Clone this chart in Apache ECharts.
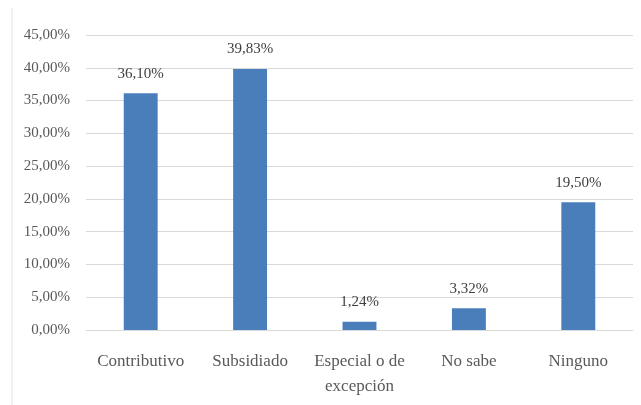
<!DOCTYPE html>
<html>
<head>
<meta charset="utf-8">
<script src="https://cdn.jsdelivr.net/npm/echarts@6/dist/echarts.min.js"></script>
<style>
  html, body { margin: 0; padding: 0; background: #fff; }
  #chart { width: 641px; height: 405px; }
</style>
</head>
<body>
<div id="chart"></div>
<script>
// categorias y valores (%)
var categories = ['Contributivo', 'Subsidiado', 'Especial o de\nexcepción', 'No sabe', 'Ninguno'];
var values = [36.10, 39.83, 1.24, 3.32, 19.50];

var yMax = 45;
var yStep = 5;

var fmt = function (v) {
  return v.toFixed(2).replace('.', ',') + '%';
};

var chart = echarts.init(document.getElementById('chart'));

var option = {
  animation: false,
  textStyle: { fontFamily: 'Liberation Serif', color: '#595959' },
  grid: { left: 86, right: 8, top: 35, bottom: 75 },
  // borde gris a la izquierda de la imagen
  graphic: [{
    type: 'line',
    shape: { x1: 12, y1: 8, x2: 12, y2: 405 },
    style: { stroke: '#e2e2e2', lineWidth: 1 }
  }],
  xAxis: {
    type: 'category',
    data: categories,
    axisLine: { lineStyle: { color: '#d9d9d9' } },
    axisTick: { show: false },
    axisLabel: {
      color: '#595959',
      fontSize: 17,
      fontFamily: 'Liberation Serif',
      margin: 19,
      lineHeight: 25,
      interval: 0
    }
  },
  yAxis: {
    type: 'value',
    min: 0,
    max: yMax,
    interval: yStep,
    axisLine: { show: false },
    axisTick: { show: false },
    splitLine: { lineStyle: { color: '#d9d9d9' } },
    axisLabel: {
      color: '#595959',
      fontSize: 15,
      fontFamily: 'Liberation Serif',
      margin: 16,
      formatter: function (v) { return fmt(v); }
    }
  },
  series: [{
    type: 'bar',
    data: values,
    barWidth: '31%',
    itemStyle: { color: '#4a7ebb' },
    label: {
      show: true,
      position: 'top',
      distance: 12,
      color: '#404040',
      fontSize: 15,
      fontFamily: 'Liberation Serif',
      formatter: function (p) { return fmt(p.value); }
    }
  }]
};

chart.setOption(option);
</script>
</body>
</html>
